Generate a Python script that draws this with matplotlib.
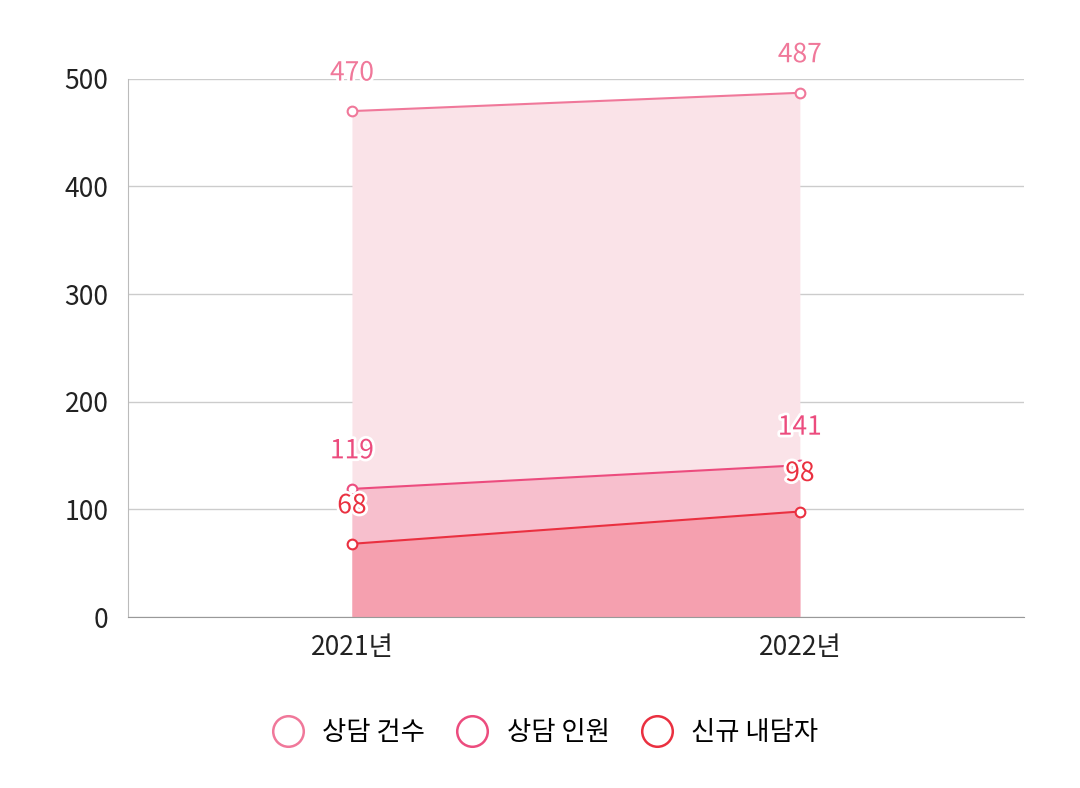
import matplotlib
matplotlib.use('Agg')
import matplotlib.pyplot as plt
import matplotlib.patheffects as pe
from matplotlib.lines import Line2D

plt.rcParams['font.family'] = ['Noto Sans CJK KR', 'DejaVu Sans']

years = ['2021년', '2022년']
names = ['상담 건수', '상담 인원', '신규 내담자']
cases = [470, 487]
people = [119, 141]
newcomers = [68, 98]
series = [cases, people, newcomers]
line_colors = ['#F0789A', '#EC4C7E', '#EA3040']
fill_colors = ['#FAE3E8', '#F7BFCD', '#F5A0AF']

fig = plt.figure(figsize=(10.8, 7.88), dpi=100)
ax = fig.add_axes([0.1185, 0.217, 0.8295, 0.683])
x = [0, 1]
for vals, lc, fc in zip(series, line_colors, fill_colors):
    ax.fill_between(x, 0, vals, color=fc, lw=0, zorder=1)
for vals, lc, name in zip(series, line_colors, names):
    ax.plot(x, vals, color=lc, lw=1.5, marker='o', ms=7, mfc='white', mec=lc, mew=1.5, zorder=3)
    for xi, v in zip(x, vals):
        ax.annotate(str(v), (xi, v), xytext=(0, 22), textcoords='offset points', ha='center',
                    color=lc, fontsize=19, zorder=4,
                    path_effects=[pe.withStroke(linewidth=4, foreground='white')])

ax.set_xlim(-0.5, 1.5)
ax.set_ylim(0, 500)
ax.set_xticks(x)
ax.set_xticklabels(years)
ax.set_yticks([0, 100, 200, 300, 400, 500])
ax.tick_params(labelsize=19, length=0, colors='#222222', pad=12)
ax.tick_params(axis='y', pad=14)
ax.grid(axis='y', color='#cccccc', lw=1)
ax.set_axisbelow(True)
for s in ['top', 'right']:
    ax.spines[s].set_visible(False)
ax.spines['left'].set_color('#bbbbbb')
ax.spines['bottom'].set_color('#999999')

handles = [Line2D([], [], ls='none', marker='o', ms=22, mfc='white', mec=c, mew=1.8) for c in line_colors]
fig.legend(handles, names, loc='center', bbox_to_anchor=(0.5, 0.07), ncol=3, frameon=False,
           fontsize=19, handletextpad=0.3, columnspacing=0.8)

fig.savefig('out.png')
